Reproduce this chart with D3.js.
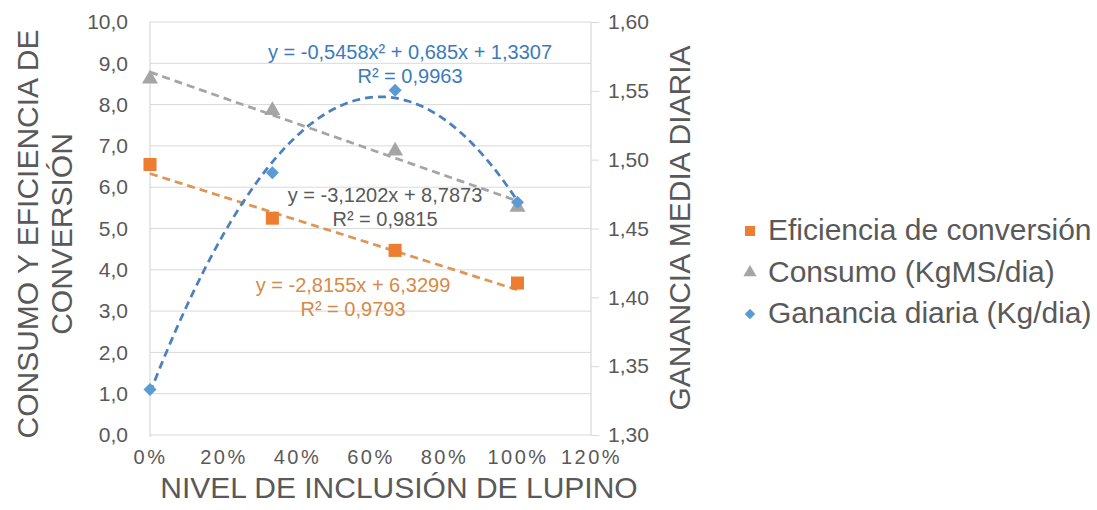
<!DOCTYPE html>
<html>
<head>
<meta charset="utf-8">
<script src="https://cdn.jsdelivr.net/npm/d3@7"></script>
<style>
  body { margin: 0; background: #fff; }
  svg { font-family: "Liberation Sans", Arial, sans-serif; }
</style>
</head>
<body>
<svg id="chart" width="1097" height="510"></svg>
<script>
// niveles de inclusion de lupino (fraccion)
const niveles = [0, 0.333, 0.667, 1.0];
// eje izquierdo
const eficiencia = [6.55, 5.25, 4.47, 3.68];
const consumo = [8.62, 7.86, 6.88, 5.52];
// eje derecho
const ganancia = [1.3330, 1.4905, 1.5505, 1.4690];

// coeficientes de las lineas de tendencia (tal como salen en el grafico)
const tendEficiencia = [6.3299, -2.8155];      // a + b x
const tendConsumo = [8.7873, -3.1202];
const tendGanancia = [1.3307, 0.685, -0.5458]; // a + b x + c x^2
const r2 = { eficiencia: "0,9793", consumo: "0,9815", ganancia: "0,9963" };

const xTicks = [0, 0.2, 0.4, 0.6, 0.8, 1.0, 1.2];
const yLeftTicks = d3.range(0, 11, 1);
const yRightTicks = [1.30, 1.35, 1.40, 1.45, 1.50, 1.55, 1.60];

const series = [
  { name: "Eficiencia de conversión", values: eficiencia, coef: tendEficiencia, axis: "left",
    color: "#ED7D31", trend: "#DD9656", label: "#D68A45", symbol: "square" },
  { name: "Consumo (KgMS/dia)", values: consumo, coef: tendConsumo, axis: "left",
    color: "#A5A5A5", trend: "#A5A5A5", label: "#595959", symbol: "triangle" },
  { name: "Ganancia diaria (Kg/dia)", values: ganancia, coef: tendGanancia, axis: "right",
    color: "#5B9BD5", trend: "#4A80BE", label: "#3C7BBA", symbol: "diamond" }
];

const svg = d3.select("#chart");
const textColor = "#595959";
const plot = { left: 150, right: 591, top: 22, bottom: 435 };

const x = d3.scaleLinear().domain([0, 1.2]).range([plot.left, plot.right]);
const yL = d3.scaleLinear().domain([0, 10]).range([plot.bottom, plot.top]);
const yR = d3.scaleLinear().domain([1.30, 1.60]).range([plot.bottom, plot.top]);

const comma = (v, n) => v.toFixed(n).replace(".", ",");

// lineas de cuadricula
svg.append("g").selectAll("line")
  .data(yLeftTicks)
  .join("line")
  .attr("x1", plot.left).attr("x2", plot.right)
  .attr("y1", d => yL(d)).attr("y2", d => yL(d))
  .attr("stroke", "#D9D9D9").attr("stroke-width", 1);

svg.append("line")
  .attr("x1", plot.left).attr("x2", plot.left)
  .attr("y1", plot.top).attr("y2", plot.bottom + 2)
  .attr("stroke", "#D0D0D0");
svg.append("line")
  .attr("x1", plot.right).attr("x2", plot.right)
  .attr("y1", plot.top).attr("y2", plot.bottom)
  .attr("stroke", "#D0D0D0");

// ejes
const axLeft = svg.append("g")
  .attr("transform", `translate(${plot.left},0)`)
  .call(d3.axisLeft(yL).tickValues(yLeftTicks).tickSize(0).tickPadding(22)
    .tickFormat(d => comma(d, 1)));

const axRight = svg.append("g")
  .attr("transform", `translate(${plot.right},0)`)
  .call(d3.axisRight(yR).tickValues(yRightTicks).tickSize(8).tickPadding(9)
    .tickFormat(d => comma(d, 2)));

const axBottom = svg.append("g")
  .attr("transform", `translate(0,${plot.bottom})`)
  .call(d3.axisBottom(x).tickValues(xTicks).tickSize(0).tickPadding(15)
    .tickFormat(d => Math.round(d * 100) + "%"));

[axLeft, axRight, axBottom].forEach(g => {
  g.select(".domain").remove();
  g.selectAll(".tick line").attr("stroke", "#D9D9D9");
  g.selectAll("text").attr("fill", textColor).attr("font-size", 21)
    .attr("font-family", "Liberation Sans, Arial, sans-serif");
});
axBottom.selectAll("text").attr("font-size", 20).attr("letter-spacing", "2.5px");

// lineas de tendencia
const tendencia = (coef, t) => coef.reduce((s, c, i) => s + c * Math.pow(t, i), 0);
const muestras = d3.range(0, 101).map(i => i / 100);

series.forEach(s => {
  const y = s.axis === "left" ? yL : yR;
  svg.append("path")
    .datum(muestras)
    .attr("fill", "none")
    .attr("stroke", s.trend)
    .attr("stroke-width", 2.75)
    .attr("stroke-dasharray", "8,5")
    .attr("d", d3.line().x(d => x(d)).y(d => y(tendencia(s.coef, d))));
});

// marcadores
const symbolPath = (type, size) => {
  if (type === "square") return d3.symbol(d3.symbolSquare, size)();
  if (type === "triangle") return d3.symbol(d3.symbolTriangle, size)();
  return d3.symbol(d3.symbolSquare, size)();
};
const markerSize = { square: 170, triangle: 110, diamond: 85 };

series.forEach(s => {
  const y = s.axis === "left" ? yL : yR;
  svg.append("g").selectAll("path")
    .data(s.values)
    .join("path")
    .attr("d", symbolPath(s.symbol, markerSize[s.symbol]))
    .attr("transform", (d, i) => `translate(${x(niveles[i])},${y(d)})` + (s.symbol === "diamond" ? " rotate(45)" : ""))
    .attr("fill", s.color);
});

// ecuaciones de tendencia
function eqLines(coef) {
  const n = v => comma(Math.abs(v), 4).replace(/0+$/, "").replace(/,$/, "");
  const sg = v => (v < 0 ? "- " : "+ ");
  if (coef.length === 3) {
    return `y = ${coef[2] < 0 ? "-" : ""}${n(coef[2])}x² ${sg(coef[1])}${n(coef[1])}x ${sg(coef[0])}${n(coef[0])}`;
  }
  return `y = ${coef[1] < 0 ? "-" : ""}${n(coef[1])}x ${sg(coef[0])}${n(coef[0])}`;
}
const etiquetas = [
  { s: series[2], r: r2.ganancia, cx: 410, y: 59 },
  { s: series[1], r: r2.consumo, cx: 385, y: 202 },
  { s: series[0], r: r2.eficiencia, cx: 353, y: 292 }
];
etiquetas.forEach(e => {
  const t = svg.append("text")
    .attr("text-anchor", "middle")
    .attr("font-size", 20)
    .attr("fill", e.s.label);
  t.append("tspan").attr("x", e.cx).attr("y", e.y).text(eqLines(e.s.coef));
  t.append("tspan").attr("x", e.cx).attr("y", e.y + 24).text("R² = " + e.r);
});

// titulos de ejes
svg.append("text")
  .attr("x", 399).attr("y", 498)
  .attr("text-anchor", "middle")
  .attr("font-size", 30)
  .attr("fill", textColor)
  .text("NIVEL DE INCLUSIÓN DE LUPINO");

const tituloIzq = svg.append("text")
  .attr("transform", "rotate(-90)")
  .attr("text-anchor", "middle")
  .attr("font-size", 30)
  .attr("fill", textColor);
tituloIzq.append("tspan").attr("x", -234).attr("y", 38).text("CONSUMO Y EFICIENCIA DE");
tituloIzq.append("tspan").attr("x", -234).attr("y", 72).text("CONVERSIÓN");

svg.append("text")
  .attr("transform", "rotate(-90)")
  .attr("x", -228).attr("y", 690)
  .attr("text-anchor", "middle")
  .attr("font-size", 30)
  .attr("fill", textColor)
  .text("GANANCIA MEDIA DIARIA");

// leyenda
const legendSize = { square: 100, triangle: 75, diamond: 55 };
const legend = svg.append("g").selectAll("g")
  .data(series)
  .join("g")
  .attr("transform", (d, i) => `translate(750,${231 + i * 41.5})`);
legend.append("path")
  .attr("d", d => symbolPath(d.symbol, legendSize[d.symbol]))
  .attr("transform", d => d.symbol === "diamond" ? "rotate(45)" : null)
  .attr("fill", d => d.color);
legend.append("text")
  .attr("x", 18).attr("y", 9)
  .attr("font-size", 30)
  .attr("fill", textColor)
  .text(d => d.name);
</script>
</body>
</html>
